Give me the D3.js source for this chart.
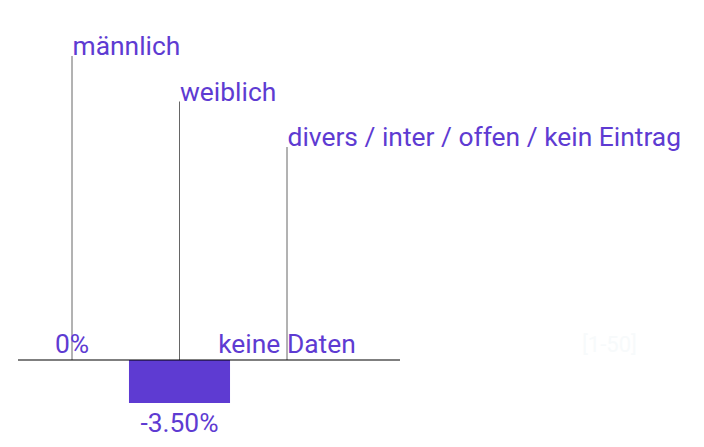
<!DOCTYPE html>
<html><head><meta charset="utf-8">
<script src="https://cdn.jsdelivr.net/npm/d3@7"></script>
<style>
html,body{margin:0;padding:0;background:#fff;}
svg{display:block;font-family:Roboto,"Noto Sans",sans-serif;}
</style></head>
<body>
<svg id="chart" width="704" height="447"></svg>
<script>
const categories = ["männlich", "weiblich", "divers / inter / offen / kein Eintrag"];
const values = [0, -3.5, null];
const valueLabels = ["0%", "-3.50%", "keine Daten"];
const labelLevels = [0, 1, 2];

const W = 704, H = 447;
const svg = d3.select("#chart");
const purple = "#5e3bd2";
const fs = 26.4;

const x = d3.scaleBand().domain(categories).range([18.25, 340.75]).paddingInner(0.06).paddingOuter(0.03);
const y = d3.scaleLinear().domain([-3.5, 0]).range([403, 360]);
const labelY = d3.scaleLinear().domain([0, 2]).range([56, 147]);

// bars
svg.append("g").selectAll("rect").data(categories.map((c,i)=>({c, v: values[i]})).filter(d=>d.v!==null && d.v!==0))
  .join("rect")
  .attr("x", d=>x(d.c)).attr("width", x.bandwidth())
  .attr("y", d=>y(Math.max(0,d.v))).attr("height", d=>Math.abs(y(d.v)-y(0)))
  .attr("fill", purple);

// leader lines
svg.append("g").selectAll("line").data(categories).join("line")
  .attr("x1", d=>x(d)+x.bandwidth()/2).attr("x2", d=>x(d)+x.bandwidth()/2)
  .attr("y1", (d,i)=>labelY(labelLevels[i])).attr("y2", y(0))
  .attr("stroke", "#666").attr("stroke-width", 1);

// baseline axis
svg.append("line").attr("x1", 18).attr("x2", 400).attr("y1", y(0)).attr("y2", y(0))
  .attr("stroke", "#000").attr("stroke-width", 1.2);

// category labels
svg.append("g").selectAll("text").data(categories).join("text")
  .attr("x", d=>x(d)+x.bandwidth()/2+0.5).attr("y", (d,i)=>labelY(labelLevels[i])-1)
  .attr("fill", purple).attr("font-size", fs).text(d=>d);

// value labels
svg.append("g").selectAll("text").data(categories).join("text")
  .attr("x", d=>x(d)+x.bandwidth()/2)
  .attr("y", (d,i)=> values[i] !== null && values[i] < 0 ? y(values[i]) + 29 : y(0) - 7)
  .attr("text-anchor", "middle")
  .attr("fill", purple).attr("font-size", fs)
  .text((d,i)=>valueLabels[i]);

// faint remnants
svg.append("text").attr("x", 582).attr("y", 352).attr("fill", "#f7fafb").attr("font-size", 22).text("[1-50]");
</script>
</body></html>
